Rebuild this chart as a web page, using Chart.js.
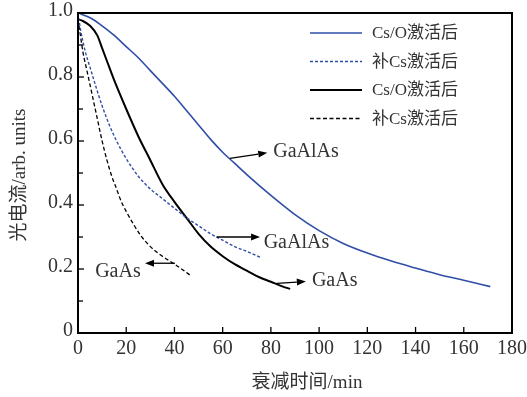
<!DOCTYPE html>
<html><head><meta charset="utf-8">
<script src="https://cdn.jsdelivr.net/npm/chart.js@4.4.1/dist/chart.umd.min.js"></script>
<style>html,body{margin:0;padding:0;background:#fff}#wrap{width:527px;height:397px;position:relative}</style>
</head><body><div id="wrap"><canvas id="c" width="527" height="397"></canvas></div>
<script>
const labels = ['Cs/O激活后', '补Cs激活后', 'Cs/O激活后', '补Cs激活后'];
const xTicks = [0,20,40,60,80,100,120,140,160,180];
const yTicks = [0,0.2,0.4,0.6,0.8,1.0];
const xRange = [0,180];
const yRange = [0,1.0];

const gaalasCsO_x = [0,5,10,15,20,25,30,35,40,45,50,55,60,65,70,80,90,100,110,120,130,140,150,160,171];
const gaalasCsO_y = [1.0,0.985,0.96,0.93,0.895,0.86,0.82,0.78,0.74,0.695,0.65,0.605,0.565,0.53,0.495,0.43,0.37,0.32,0.28,0.25,0.225,0.203,0.182,0.165,0.145];

const gaalasCs_x = [0,1,3,5,7,10,13,16,20,25,30,35,40,45,50,55,60,65,70,76];
const gaalasCs_y = [1.0,0.95,0.88,0.83,0.78,0.71,0.65,0.60,0.545,0.49,0.45,0.42,0.39,0.36,0.335,0.31,0.29,0.27,0.255,0.235];

const gaasCsO_x = [0,2,5,8,10,12,15,20,25,30,35,40,45,50,55,60,65,70,75,80,85,88];
const gaasCsO_y = [0.98,0.975,0.96,0.93,0.89,0.85,0.79,0.70,0.615,0.54,0.465,0.41,0.36,0.31,0.27,0.24,0.215,0.195,0.175,0.16,0.145,0.138];

const gaasCs_x = [0,1,2,4,6,8,10,12,14,16,18,20,23,26,30,34,38,42,47];
const gaasCs_y = [0.98,0.93,0.88,0.81,0.74,0.67,0.60,0.54,0.49,0.45,0.41,0.38,0.34,0.305,0.27,0.245,0.225,0.205,0.178];

const annotations = [
  {text:'GaAlAs', from:[63,0.546], to:[78.5,0.563], tx:81, ty:0.565, align:'left'},
  {text:'GaAlAs', from:[57.5,0.30], to:[75.5,0.30], tx:77, ty:0.282, align:'left'},
  {text:'GaAs', from:[82.4,0.155], to:[94.5,0.161], tx:97, ty:0.163, align:'left'},
  {text:'GaAs', from:[40.2,0.218], to:[27.8,0.218], tx:26, ty:0.19, align:'right'}
];

const BLUE = 'rgb(48,78,168)';
const FONT = '"Liberation Serif", "DejaVu Serif", serif';
const CJK = '"Liberation Serif", "Noto Sans CJK SC", serif';
const TXT = '#333';
function pts(xs, ys){ return xs.map((x,i)=>({x:x, y:ys[i]})); }

const series = [
  {label:labels[0], data:pts(gaalasCsO_x,gaalasCsO_y), borderColor:BLUE, borderWidth:1.6, borderDash:[]},
  {label:labels[1], data:pts(gaalasCs_x,gaalasCs_y), borderColor:BLUE, borderWidth:1.4, borderDash:[3,2]},
  {label:labels[2], data:pts(gaasCsO_x,gaasCsO_y), borderColor:'#000', borderWidth:2, borderDash:[]},
  {label:labels[3], data:pts(gaasCs_x,gaasCs_y), borderColor:'#000', borderWidth:1.3, borderDash:[4,2.5]}
];

const deco = {
  id:'deco',
  afterDraw(chart){
    const ctx = chart.ctx, a = chart.chartArea;
    const xs = chart.scales.x, ys = chart.scales.y;
    const L = xs.getPixelForValue(xRange[0]), R = xs.getPixelForValue(xRange[1]);
    const T = ys.getPixelForValue(yRange[1]), B = ys.getPixelForValue(yRange[0]);
    ctx.save();
    ctx.setLineDash([]);
    // frame
    ctx.strokeStyle = '#000'; ctx.lineWidth = 2;
    ctx.beginPath(); ctx.moveTo(L,T); ctx.lineTo(R,T); ctx.lineTo(R,B); ctx.lineTo(L,B); ctx.closePath(); ctx.stroke();
    // inward ticks
    ctx.lineWidth = 1.3;
    xTicks.forEach(v=>{ const p = xs.getPixelForValue(v); ctx.beginPath(); ctx.moveTo(p,B); ctx.lineTo(p,B-6); ctx.stroke(); });
    for(let i=0;i<=10;i++){ const p=ys.getPixelForValue(i/10); const len=(i%2===0)?6:5; ctx.beginPath(); ctx.moveTo(L,p); ctx.lineTo(L+len,p); ctx.stroke(); }
    // tick labels
    ctx.fillStyle = TXT; ctx.font = '20px ' + FONT;
    ctx.textAlign = 'center'; ctx.textBaseline = 'top';
    xTicks.forEach(v=>{ ctx.fillText(String(v), xs.getPixelForValue(v), B+6); });
    ctx.textAlign = 'right'; ctx.textBaseline = 'middle';
    yTicks.forEach(v=>{ ctx.fillText(v===0?'0':v.toFixed(1), L-5, ys.getPixelForValue(v)-2); });
    // axis titles
    ctx.font = '19px ' + CJK;
    ctx.textAlign = 'center'; ctx.textBaseline = 'middle';
    ctx.fillText('衰减时间/min', (L+R)/2 + 12, B + 50);
    ctx.save();
    ctx.translate(20, (T+B)/2 + 2);
    ctx.rotate(-Math.PI/2);
    ctx.fillText('光电流/arb. units', 0, 0);
    ctx.restore();
    // legend
    const lx0 = 310, lx1 = 362, ltx = 372;
    series.forEach((s,i)=>{
      const y = 33 + i*28.5;
      ctx.strokeStyle = s.borderColor; ctx.lineWidth = s.borderWidth>1.8?1.8:1.3;
      ctx.setLineDash(s.borderDash);
      ctx.beginPath(); ctx.moveTo(lx0,y); ctx.lineTo(lx1,y); ctx.stroke();
      ctx.setLineDash([]);
      ctx.fillStyle = TXT; ctx.font = '17px ' + CJK; ctx.textAlign='left'; ctx.textBaseline='middle';
      ctx.fillText(s.label, ltx, y+1);
    });
    // annotations
    annotations.forEach(an=>{
      const x1 = xs.getPixelForValue(an.from[0]), y1 = ys.getPixelForValue(an.from[1]);
      const x2 = xs.getPixelForValue(an.to[0]), y2 = ys.getPixelForValue(an.to[1]);
      ctx.strokeStyle = '#000'; ctx.fillStyle = '#000'; ctx.lineWidth = 1.3;
      const ang = Math.atan2(y2-y1, x2-x1);
      const hl = 9, hw = 3.5;
      const bx = x2 - hl*Math.cos(ang), by = y2 - hl*Math.sin(ang);
      ctx.beginPath(); ctx.moveTo(x1,y1); ctx.lineTo(bx,by); ctx.stroke();
      ctx.beginPath(); ctx.moveTo(x2,y2);
      ctx.lineTo(bx + hw*Math.sin(ang), by - hw*Math.cos(ang));
      ctx.lineTo(bx - hw*Math.sin(ang), by + hw*Math.cos(ang));
      ctx.closePath(); ctx.fill();
      ctx.fillStyle = TXT; ctx.font = '20px ' + FONT; ctx.textAlign = an.align; ctx.textBaseline='middle';
      ctx.fillText(an.text, xs.getPixelForValue(an.tx), ys.getPixelForValue(an.ty));
    });
    ctx.restore();
  }
};

new Chart(document.getElementById('c'), {
  type:'line',
  data:{ datasets: series.map(s=>({label:s.label, data:s.data, borderColor:s.borderColor, borderWidth:s.borderWidth, borderDash:s.borderDash, pointRadius:0, fill:false, tension:0.4, cubicInterpolationMode:'monotone'})) },
  options:{
    responsive:false, animation:false, events:[],
    layout:{padding:{top:13, right:15, left:0, bottom:0}},
    plugins:{legend:{display:false}, tooltip:{enabled:false}},
    scales:{
      x:{type:'linear', min:xRange[0], max:xRange[1], grid:{display:false}, border:{display:true, color:'#000', width:2}, ticks:{display:false},
         afterFit(s){ s.height = 64; }},
      y:{type:'linear', min:yRange[0], max:yRange[1], grid:{display:false}, border:{display:true, color:'#000', width:2}, ticks:{display:false},
         afterFit(s){ s.width = 78; }}
    }
  },
  plugins:[deco]
});
</script></body></html>
